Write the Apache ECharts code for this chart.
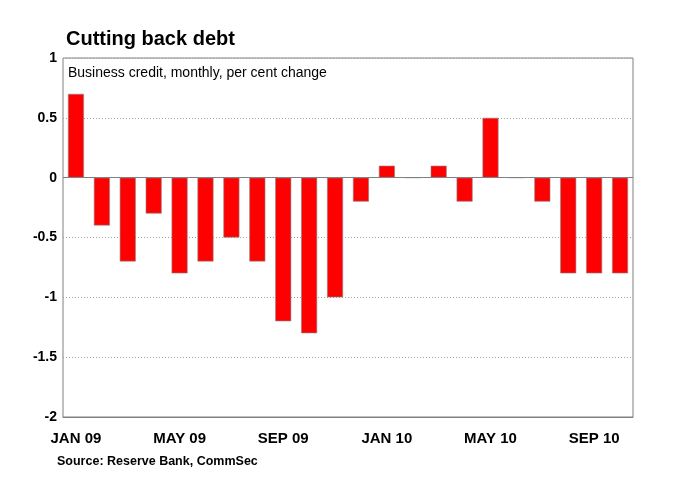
<!DOCTYPE html>
<html>
<head>
<meta charset="utf-8">
<script src="https://cdn.jsdelivr.net/npm/echarts@6/dist/echarts.min.js"></script>
<style>
  html, body { margin: 0; padding: 0; background: #fff; }
  #chart { width: 686px; height: 497px; }
</style>
</head>
<body>
<div id="chart"></div>
<script>
const months = [
  "JAN 09", "FEB 09", "MAR 09", "APR 09", "MAY 09", "JUN 09", "JUL 09", "AUG 09",
  "SEP 09", "OCT 09", "NOV 09", "DEC 09", "JAN 10", "FEB 10", "MAR 10", "APR 10",
  "MAY 10", "JUN 10", "JUL 10", "AUG 10", "SEP 10", "OCT 10",
];
const creditChange = [
  0.7, -0.4, -0.7, -0.3, -0.8, -0.7, -0.5, -0.7,
  -1.2, -1.3, -1.0, -0.2, 0.1, 0, 0.1, -0.2,
  0.5, 0, -0.2, -0.8, -0.8, -0.8,
];

const chart = echarts.init(document.getElementById("chart"));
const font = "Liberation Sans, Arial, sans-serif";

chart.setOption({
  animation: false,
  backgroundColor: "#fff",
  title: [
    {
      text: "Cutting back debt",
      left: 66, top: 29, padding: 0,
      textStyle: { fontFamily: font, fontSize: 20, fontWeight: "bold", color: "#000" },
    },
    {
      text: "Business credit, monthly, per cent change",
      left: 68, top: 66, padding: 0,
      textStyle: { fontFamily: font, fontSize: 14, fontWeight: "normal", color: "#000" },
    },
    {
      text: "Source: Reserve Bank, CommSec",
      left: 57, top: 455, padding: 0,
      textStyle: { fontFamily: font, fontSize: 12.5, fontWeight: "bold", color: "#000" },
    },
  ],
  grid: {
    left: 63, right: 53, top: 58, bottom: 80,
    show: true, borderColor: "#808080", borderWidth: 1,
  },
  xAxis: {
    type: "category",
    data: months,
    axisLine: { onZero: false, lineStyle: { color: "#808080" } },
    axisTick: {
      inside: true, alignWithLabel: true, length: 4, interval: 0,
      lineStyle: { color: "#999" },
    },
    axisLabel: {
      interval: 3, margin: 14,
      fontFamily: font, fontSize: 15, fontWeight: "bold", color: "#000",
    },
  },
  yAxis: {
    type: "value",
    min: -2, max: 1, interval: 0.5,
    axisLine: { show: false },
    axisTick: { show: false },
    axisLabel: {
      margin: 6,
      fontFamily: font, fontSize: 14, fontWeight: "bold", color: "#000",
    },
    splitLine: { lineStyle: { color: "#a0a0a0", type: [1, 2] } },
  },
  series: [
    {
      type: "bar",
      data: creditChange,
      barWidth: 16,
      itemStyle: { color: "#ff0000", borderColor: "#8a8a8a", borderWidth: 0.6 },
      markLine: {
        silent: true,
        symbol: "none",
        label: { show: false },
        lineStyle: { color: "#808080", type: "solid", width: 1 },
        data: [{ yAxis: 0 }],
      },
    },
  ],
});
</script>
</body>
</html>
